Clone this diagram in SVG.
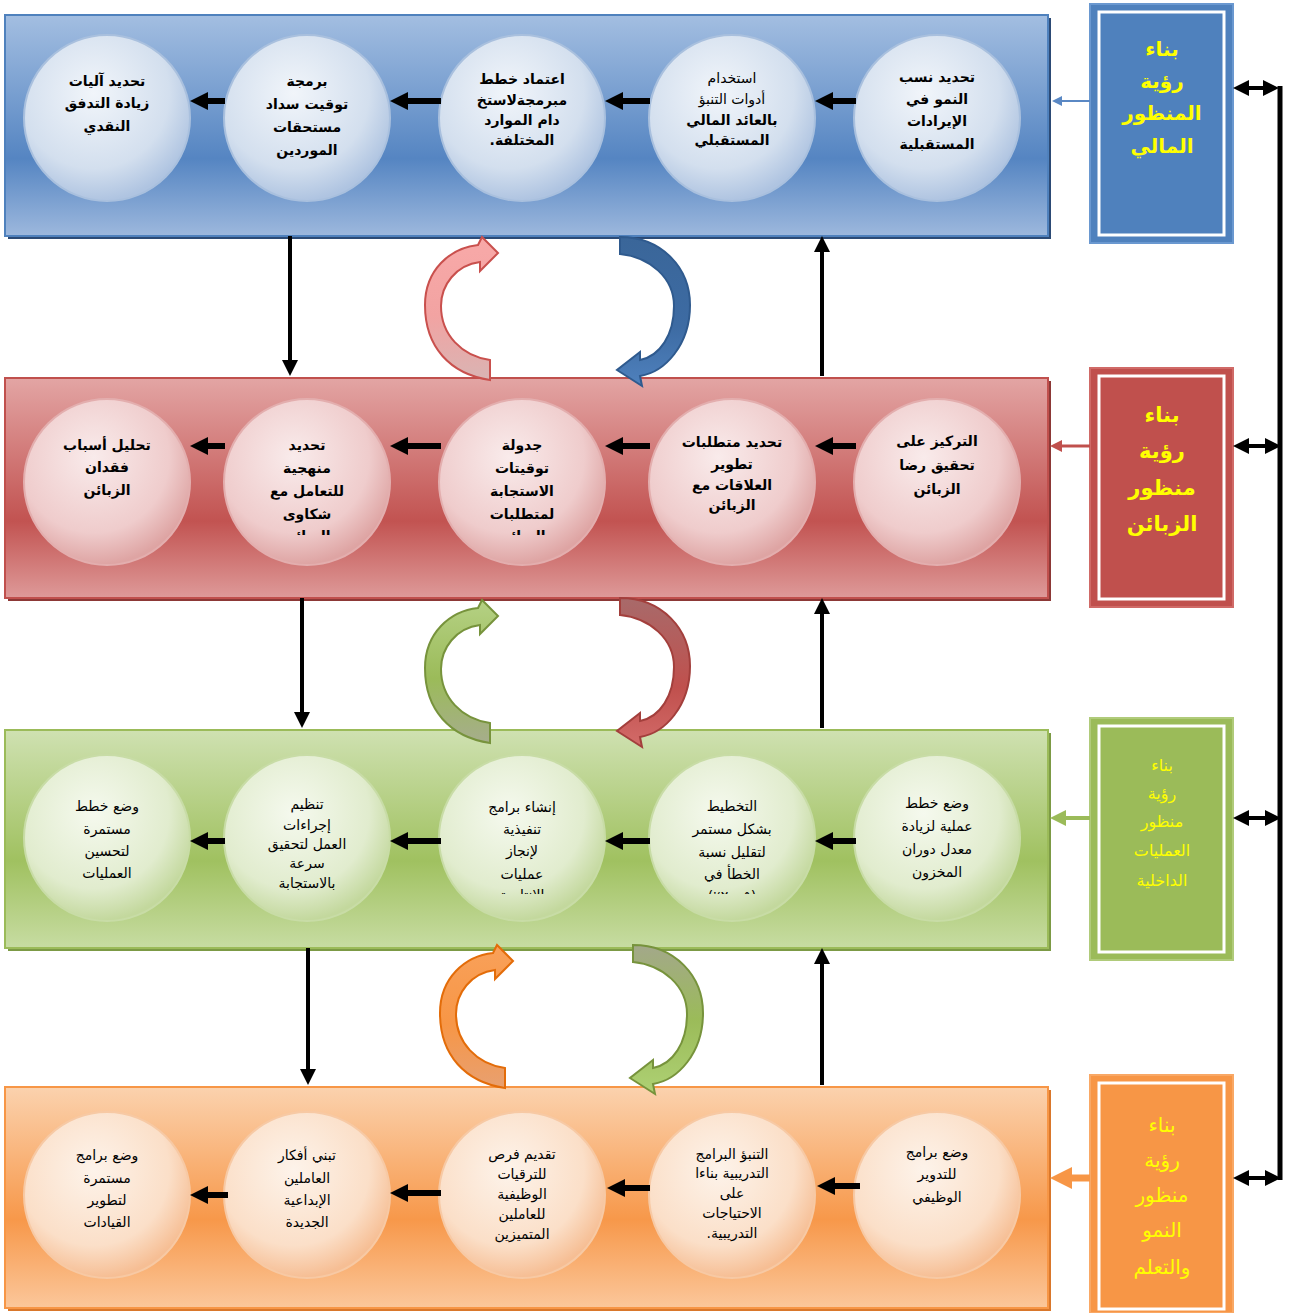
<svg xmlns="http://www.w3.org/2000/svg" width="1293" height="1313" viewBox="0 0 1293 1313">
  <defs>
    <style>
      .t { font-family: "DejaVu Sans", sans-serif; font-size: 14px; fill: #000; text-anchor: middle; direction: rtl; }
      .b { font-weight: bold; }
      .side { font-family: "DejaVu Sans", sans-serif; fill: #ffff00; text-anchor: middle; direction: rtl; }
      .inner { fill: none; stroke: #ffffff; stroke-width: 3; }
      .blk { stroke: #000; fill: none; }
    </style>
    <linearGradient id="gBlue" x1="0" y1="0" x2="0" y2="1">
      <stop offset="0" stop-color="#a3bee1"/>
      <stop offset="0.65" stop-color="#5585c2"/>
      <stop offset="1" stop-color="#9db8dd"/>
    </linearGradient>
    <linearGradient id="gRed" x1="0" y1="0" x2="0" y2="1">
      <stop offset="0" stop-color="#e3a5a4"/>
      <stop offset="0.65" stop-color="#c25351"/>
      <stop offset="1" stop-color="#de9a99"/>
    </linearGradient>
    <linearGradient id="gGreen" x1="0" y1="0" x2="0" y2="1">
      <stop offset="0" stop-color="#cfe1b1"/>
      <stop offset="0.6" stop-color="#a0c160"/>
      <stop offset="1" stop-color="#c7dca2"/>
    </linearGradient>
    <linearGradient id="gOrange" x1="0" y1="0" x2="0" y2="1">
      <stop offset="0" stop-color="#fbd2ae"/>
      <stop offset="0.6" stop-color="#f7984a"/>
      <stop offset="1" stop-color="#fbc79b"/>
    </linearGradient>
    <radialGradient id="cBlue" cx="0.42" cy="0.35" r="0.65">
      <stop offset="0" stop-color="#f1f5fa"/>
      <stop offset="0.7" stop-color="#d3dfee"/>
      <stop offset="1" stop-color="#afc4e1"/>
    </radialGradient>
    <radialGradient id="cRed" cx="0.42" cy="0.35" r="0.65">
      <stop offset="0" stop-color="#f9ebeb"/>
      <stop offset="0.7" stop-color="#efcccc"/>
      <stop offset="1" stop-color="#dea4a3"/>
    </radialGradient>
    <radialGradient id="cGreen" cx="0.42" cy="0.35" r="0.65">
      <stop offset="0" stop-color="#f5f9ee"/>
      <stop offset="0.7" stop-color="#e1ecce"/>
      <stop offset="1" stop-color="#c3d89d"/>
    </radialGradient>
    <radialGradient id="cOrange" cx="0.42" cy="0.35" r="0.65">
      <stop offset="0" stop-color="#fdf3ea"/>
      <stop offset="0.7" stop-color="#fbdfc8"/>
      <stop offset="1" stop-color="#f6be94"/>
    </radialGradient>
    <linearGradient id="rPink" x1="0" y1="0" x2="0" y2="1">
      <stop offset="0" stop-color="#f8a9a8"/>
      <stop offset="0.55" stop-color="#f2a3a2"/>
      <stop offset="1" stop-color="#d9b4b3"/>
    </linearGradient>
    <linearGradient id="rBlue" x1="0" y1="0" x2="0" y2="1">
      <stop offset="0" stop-color="#3a6699"/>
      <stop offset="0.6" stop-color="#3d6ba3"/>
      <stop offset="1" stop-color="#4f81bd"/>
    </linearGradient>
    <linearGradient id="rGreen" x1="0" y1="0" x2="0" y2="1">
      <stop offset="0" stop-color="#b5d184"/>
      <stop offset="0.55" stop-color="#9bbb59"/>
      <stop offset="1" stop-color="#a6ad8c"/>
    </linearGradient>
    <linearGradient id="rRed" x1="0" y1="0" x2="0" y2="1">
      <stop offset="0" stop-color="#a86a6a"/>
      <stop offset="0.6" stop-color="#c0504d"/>
      <stop offset="1" stop-color="#d36b69"/>
    </linearGradient>
    <linearGradient id="rOrange" x1="0" y1="0" x2="0" y2="1">
      <stop offset="0" stop-color="#f9a15a"/>
      <stop offset="0.55" stop-color="#f79646"/>
      <stop offset="1" stop-color="#e8a070"/>
    </linearGradient>
    <linearGradient id="rGreen2" x1="0" y1="0" x2="0" y2="1">
      <stop offset="0" stop-color="#a3a88a"/>
      <stop offset="0.5" stop-color="#9bbb59"/>
      <stop offset="1" stop-color="#aed174"/>
    </linearGradient>
    <!-- curved ribbon arrows: left one points up-right, right one points down-left -->
    <path id="curlL" d="M65,143 C25,137 0,110 0,68 C0,33 25,11 53,8 L57,0 L73,16 L55,34 L55,25 C31,28 16,48 16,69 C16,98 37,119 65,123 Z"/>
    <path id="curlR" d="M3,0 C45,0 73,31 73,68 C73,108 48,135 23,139 L25,149 L0,133 L23,115 L23,123 C43,119 57,98 57,69 C57,41 33,20 3,17 Z"/>
    <marker id="hBlk" viewBox="0 0 10 10" refX="0" refY="5" markerWidth="18" markerHeight="18" markerUnits="userSpaceOnUse" orient="auto">
      <path d="M0,0 L10,5 L0,10 Z" fill="#000"/>
    </marker>
    <marker id="hV" viewBox="0 0 10 10" refX="0" refY="5" markerWidth="16" markerHeight="16" markerUnits="userSpaceOnUse" orient="auto">
      <path d="M0,0 L10,5 L0,10 Z" fill="#000"/>
    </marker>
    <marker id="hD" viewBox="0 0 10 10" refX="0" refY="5" markerWidth="16" markerHeight="16" markerUnits="userSpaceOnUse" orient="auto-start-reverse">
      <path d="M0,0 L10,5 L0,10 Z" fill="#000"/>
    </marker>
    <marker id="hSB" viewBox="0 0 10 10" refX="0" refY="5" markerWidth="10" markerHeight="10" markerUnits="userSpaceOnUse" orient="auto">
      <path d="M0,0 L10,5 L0,10 Z" fill="#5a88c4"/>
    </marker>
    <marker id="hSR" viewBox="0 0 10 10" refX="0" refY="5" markerWidth="12" markerHeight="12" markerUnits="userSpaceOnUse" orient="auto">
      <path d="M0,0 L10,5 L0,10 Z" fill="#c0504d"/>
    </marker>
    <marker id="hSG" viewBox="0 0 10 10" refX="0" refY="5" markerWidth="16" markerHeight="16" markerUnits="userSpaceOnUse" orient="auto">
      <path d="M0,0 L10,5 L0,10 Z" fill="#9bbb59"/>
    </marker>
    <marker id="hSO" viewBox="0 0 10 10" refX="0" refY="5" markerWidth="22" markerHeight="22" markerUnits="userSpaceOnUse" orient="auto">
      <path d="M0,0 L10,5 L0,10 Z" fill="#f79646"/>
    </marker>
    <clipPath id="clipR2"><rect x="0" y="0" width="1293" height="535"/></clipPath>
    <clipPath id="clipR3"><rect x="0" y="0" width="1293" height="894"/></clipPath>
  </defs>

  <rect width="1293" height="1313" fill="#ffffff"/>

  <!-- perspective bands -->
  <g id="band-financial">
    <rect x="8" y="18" width="1043" height="221" fill="#2c4a75"/>
    <rect x="5" y="15" width="1043" height="221" fill="url(#gBlue)" stroke="#4f81bd" stroke-width="2"/>
  </g>
  <g id="band-customer">
    <rect x="8" y="381" width="1043" height="220" fill="#8c3836"/>
    <rect x="5" y="378" width="1043" height="220" fill="url(#gRed)" stroke="#c0504d" stroke-width="2"/>
  </g>
  <g id="band-internal">
    <rect x="8" y="733" width="1043" height="218" fill="#7c9a45"/>
    <rect x="5" y="730" width="1043" height="218" fill="url(#gGreen)" stroke="#9bbb59" stroke-width="2"/>
  </g>
  <g id="band-learning">
    <rect x="8" y="1090" width="1043" height="221" fill="#d9772b"/>
    <rect x="5" y="1087" width="1043" height="221" fill="url(#gOrange)" stroke="#f79646" stroke-width="2"/>
  </g>

  <!-- side title boxes -->
  <g id="title-financial">
    <rect x="1090" y="4" width="143" height="239" fill="#4f81bd" stroke="#6a98d0" stroke-width="2"/>
    <rect x="1099" y="12" width="125" height="223" class="inner"/>
    <g class="side" font-size="20" font-weight="bold">
      <text x="1162" y="56">بناء</text>
      <text x="1162" y="88">رؤية</text>
      <text x="1162" y="120">المنظور</text>
      <text x="1162" y="153">المالي</text>
    </g>
  </g>
  <g id="title-customer">
    <rect x="1090" y="368" width="143" height="239" fill="#c0504d" stroke="#d06a67" stroke-width="2"/>
    <rect x="1099" y="376" width="125" height="223" class="inner"/>
    <g class="side" font-size="21" font-weight="bold">
      <text x="1162" y="422">بناء</text>
      <text x="1162" y="458">رؤية</text>
      <text x="1162" y="495">منظور</text>
      <text x="1162" y="531">الزبائن</text>
    </g>
  </g>
  <g id="title-internal">
    <rect x="1090" y="718" width="143" height="242" fill="#9bbb59" stroke="#b0cb7a" stroke-width="2"/>
    <rect x="1099" y="726" width="125" height="226" class="inner"/>
    <g class="side" font-size="16">
      <text x="1162" y="771">بناء</text>
      <text x="1162" y="799">رؤية</text>
      <text x="1162" y="827">منظور</text>
      <text x="1162" y="856">العمليات</text>
      <text x="1162" y="886">الداخلية</text>
    </g>
  </g>
  <g id="title-learning">
    <rect x="1090" y="1075" width="143" height="238" fill="#f79646" stroke="#f9a865" stroke-width="2"/>
    <rect x="1099" y="1083" width="125" height="226" class="inner"/>
    <g class="side" font-size="20">
      <text x="1162" y="1132">بناء</text>
      <text x="1162" y="1167">رؤية</text>
      <text x="1162" y="1202">منظور</text>
      <text x="1162" y="1237">النمو</text>
      <text x="1162" y="1274">والتعلم</text>
    </g>
  </g>

  <!-- row 1: financial -->
  <g id="f1">
    <circle cx="937" cy="118" r="83" fill="url(#cBlue)" stroke="#a9c0de" stroke-width="2"/>
    <text class="t b" x="937" y="82">تحديد نسب</text>
    <text class="t b" x="937" y="104">النمو في</text>
    <text class="t b" x="937" y="126">الإيرادات</text>
    <text class="t b" x="937" y="149">المستقبلية</text>
  </g>
  <g id="f2">
    <circle cx="732" cy="118" r="83" fill="url(#cBlue)" stroke="#a9c0de" stroke-width="2"/>
    <text class="t" x="732" y="83" font-size="13">استخدام</text>
    <text class="t" x="732" y="104" font-size="13">أدوات التنبؤ</text>
    <text class="t b" x="732" y="125" font-size="13">بالعائد المالي</text>
    <text class="t b" x="732" y="145" font-size="13">المستقبلي</text>
  </g>
  <g id="f3">
    <circle cx="522" cy="118" r="83" fill="url(#cBlue)" stroke="#a9c0de" stroke-width="2"/>
    <text class="t b" x="522" y="84" font-size="13">اعتماد خطط</text>
    <text class="t b" x="522" y="105" font-size="13">مبرمجةلاستخ</text>
    <text class="t b" x="522" y="125" font-size="13">دام الموارد</text>
    <text class="t b" x="522" y="145" font-size="13">المختلفة.</text>
  </g>
  <g id="f4">
    <circle cx="307" cy="118" r="83" fill="url(#cBlue)" stroke="#a9c0de" stroke-width="2"/>
    <text class="t b" x="307" y="86">برمجة</text>
    <text class="t b" x="307" y="109">توقيت سداد</text>
    <text class="t b" x="307" y="132">مستحقات</text>
    <text class="t b" x="307" y="155">الموردين</text>
  </g>
  <g id="f5">
    <circle cx="107" cy="118" r="83" fill="url(#cBlue)" stroke="#a9c0de" stroke-width="2"/>
    <text class="t b" x="107" y="86">تحديد آليات</text>
    <text class="t b" x="107" y="108">زيادة التدفق</text>
    <text class="t b" x="107" y="131">النقدي</text>
  </g>

  <!-- row 2: customer -->
  <g id="c1">
    <circle cx="937" cy="482" r="83" fill="url(#cRed)" stroke="#e3aeae" stroke-width="2"/>
    <text class="t b" x="937" y="446">التركيز على</text>
    <text class="t b" x="937" y="470">تحقيق رضا</text>
    <text class="t b" x="937" y="494">الزبائن</text>
  </g>
  <g id="c2">
    <circle cx="732" cy="482" r="83" fill="url(#cRed)" stroke="#e3aeae" stroke-width="2"/>
    <text class="t b" x="732" y="447" font-size="13">تحديد متطلبات</text>
    <text class="t b" x="732" y="469" font-size="13">تطوير</text>
    <text class="t b" x="732" y="490" font-size="13">العلاقات مع</text>
    <text class="t b" x="732" y="510" font-size="13">الزبائن</text>
  </g>
  <g id="c3">
    <circle cx="522" cy="482" r="83" fill="url(#cRed)" stroke="#e3aeae" stroke-width="2"/>
    <g clip-path="url(#clipR2)">
      <text class="t b" x="522" y="450">جدولة</text>
      <text class="t b" x="522" y="473">توقيتات</text>
      <text class="t b" x="522" y="496">الاستجابة</text>
      <text class="t b" x="522" y="519">لمتطلبات</text>
      <text class="t b" x="522" y="541">الزبائن</text>
    </g>
  </g>
  <g id="c4">
    <circle cx="307" cy="482" r="83" fill="url(#cRed)" stroke="#e3aeae" stroke-width="2"/>
    <g clip-path="url(#clipR2)">
      <text class="t b" x="307" y="450">تحديد</text>
      <text class="t b" x="307" y="473">منهجية</text>
      <text class="t b" x="307" y="496">للتعامل مع</text>
      <text class="t b" x="307" y="519">شكاوى</text>
      <text class="t b" x="307" y="541">الزبائن</text>
    </g>
  </g>
  <g id="c5">
    <circle cx="107" cy="482" r="83" fill="url(#cRed)" stroke="#e3aeae" stroke-width="2"/>
    <text class="t b" x="107" y="450">تحليل أسباب</text>
    <text class="t b" x="107" y="472">فقدان</text>
    <text class="t b" x="107" y="495">الزبائن</text>
  </g>

  <!-- row 3: internal processes -->
  <g id="p1">
    <circle cx="937" cy="838" r="83" fill="url(#cGreen)" stroke="#c8dca6" stroke-width="2"/>
    <text class="t" x="937" y="808" font-size="15">وضع خطط</text>
    <text class="t" x="937" y="831" font-size="15">عملية لزيادة</text>
    <text class="t" x="937" y="854" font-size="15">معدل دوران</text>
    <text class="t" x="937" y="877" font-size="15">المخزون</text>
  </g>
  <g id="p2">
    <circle cx="732" cy="838" r="83" fill="url(#cGreen)" stroke="#c8dca6" stroke-width="2"/>
    <g clip-path="url(#clipR3)">
      <text class="t" x="732" y="811" font-size="15">التخطيط</text>
      <text class="t" x="732" y="834" font-size="15">بشكل مستمر</text>
      <text class="t" x="732" y="857" font-size="15">لتقليل نسبة</text>
      <text class="t" x="732" y="879" font-size="15">الخطأ في</text>
      <text class="t" x="732" y="901" font-size="11">(٢٠٠٥٪)</text>
    </g>
  </g>
  <g id="p3">
    <circle cx="522" cy="838" r="83" fill="url(#cGreen)" stroke="#c8dca6" stroke-width="2"/>
    <g clip-path="url(#clipR3)">
      <text class="t" x="522" y="812" font-size="15">إنشاء برامج</text>
      <text class="t" x="522" y="834" font-size="15">تنفيذية</text>
      <text class="t" x="522" y="856" font-size="15">لإنجاز</text>
      <text class="t" x="522" y="879" font-size="15">عمليات</text>
      <text class="t" x="522" y="900" font-size="15">الإنتاجية</text>
    </g>
  </g>
  <g id="p4">
    <circle cx="307" cy="838" r="83" fill="url(#cGreen)" stroke="#c8dca6" stroke-width="2"/>
    <text class="t" x="307" y="809">تنظيم</text>
    <text class="t" x="307" y="830">إجراءات</text>
    <text class="t" x="307" y="849">العمل لتحقيق</text>
    <text class="t" x="307" y="868">سرعة</text>
    <text class="t" x="307" y="888">بالاستجابة</text>
  </g>
  <g id="p5">
    <circle cx="107" cy="838" r="83" fill="url(#cGreen)" stroke="#c8dca6" stroke-width="2"/>
    <text class="t" x="107" y="811" font-size="15">وضع خطط</text>
    <text class="t" x="107" y="834" font-size="15">مستمرة</text>
    <text class="t" x="107" y="856" font-size="15">لتحسين</text>
    <text class="t" x="107" y="878" font-size="15">العمليات</text>
  </g>

  <!-- row 4: learning and growth -->
  <g id="l1">
    <circle cx="937" cy="1195" r="83" fill="url(#cOrange)" stroke="#f7c9a4" stroke-width="2"/>
    <text class="t" x="937" y="1157" font-size="15">وضع برامج</text>
    <text class="t" x="937" y="1179" font-size="15">للتدوير</text>
    <text class="t" x="937" y="1202" font-size="15">الوظيفي</text>
  </g>
  <g id="l2">
    <circle cx="732" cy="1195" r="83" fill="url(#cOrange)" stroke="#f7c9a4" stroke-width="2"/>
    <text class="t" x="732" y="1159" font-size="13">التنبؤ البرامج</text>
    <text class="t" x="732" y="1178" font-size="13">التدريبية بناءا</text>
    <text class="t" x="732" y="1198" font-size="13">على</text>
    <text class="t" x="732" y="1218" font-size="13">الاحتياجات</text>
    <text class="t" x="732" y="1238" font-size="13">التدريبية.</text>
  </g>
  <g id="l3">
    <circle cx="522" cy="1195" r="83" fill="url(#cOrange)" stroke="#f7c9a4" stroke-width="2"/>
    <text class="t" x="522" y="1159" font-size="13">تقديم فرص</text>
    <text class="t" x="522" y="1179" font-size="13">للترقيات</text>
    <text class="t" x="522" y="1199" font-size="13">الوظيفية</text>
    <text class="t" x="522" y="1219" font-size="13">للعاملين</text>
    <text class="t" x="522" y="1239" font-size="13">المتميزين</text>
  </g>
  <g id="l4">
    <circle cx="307" cy="1195" r="83" fill="url(#cOrange)" stroke="#f7c9a4" stroke-width="2"/>
    <text class="t" x="307" y="1160" font-size="15">تبني أفكار</text>
    <text class="t" x="307" y="1183" font-size="15">العاملين</text>
    <text class="t" x="307" y="1205" font-size="15">الإبداعية</text>
    <text class="t" x="307" y="1227" font-size="15">الجديدة</text>
  </g>
  <g id="l5">
    <circle cx="107" cy="1195" r="83" fill="url(#cOrange)" stroke="#f7c9a4" stroke-width="2"/>
    <text class="t" x="107" y="1160" font-size="15">وضع برامج</text>
    <text class="t" x="107" y="1183" font-size="15">مستمرة</text>
    <text class="t" x="107" y="1205" font-size="15">لتطوير</text>
    <text class="t" x="107" y="1227" font-size="15">القيادات</text>
  </g>

  <g id="connectors">
    <!-- left-pointing arrows inside each band -->
    <g class="blk" stroke-width="6" marker-end="url(#hBlk)">
      <path d="M856,101 H833"/>
      <path d="M650,101 H623"/>
      <path d="M441,101 H408"/>
      <path d="M225,101 H208"/>
      <path d="M856,446 H833"/>
      <path d="M650,446 H623"/>
      <path d="M441,446 H408"/>
      <path d="M225,446 H208"/>
      <path d="M856,841 H833"/>
      <path d="M650,841 H623"/>
      <path d="M441,841 H408"/>
      <path d="M225,841 H208"/>
      <path d="M860,1186 H835"/>
      <path d="M650,1188 H625"/>
      <path d="M441,1193 H408"/>
      <path d="M228,1195 H208"/>
    </g>
    <!-- vertical links between bands -->
    <g class="blk" stroke-width="4" marker-end="url(#hV)">
      <path d="M290,236 V360"/>
      <path d="M822,376 V252"/>
      <path d="M302,598 V712"/>
      <path d="M822,728 V614"/>
      <path d="M308,948 V1069"/>
      <path d="M822,1085 V964"/>
    </g>
    <!-- links from the title boxes to the bands -->
    <path d="M1090,101 H1062" stroke="#5a88c4" stroke-width="2" fill="none" marker-end="url(#hSB)"/>
    <path d="M1090,446 H1062" stroke="#c0504d" stroke-width="3" fill="none" marker-end="url(#hSR)"/>
    <path d="M1090,818 H1066" stroke="#9bbb59" stroke-width="4" fill="none" marker-end="url(#hSG)"/>
    <path d="M1090,1178 H1072" stroke="#f79646" stroke-width="7" fill="none" marker-end="url(#hSO)"/>
    <!-- right-hand bus joining the four title boxes -->
    <path d="M1280,86 V1180" stroke="#000" stroke-width="5" fill="none"/>
    <g class="blk" stroke-width="4" marker-start="url(#hD)" marker-end="url(#hD)">
      <path d="M1249,88 H1263"/>
      <path d="M1249,446 H1265"/>
      <path d="M1249,818 H1265"/>
      <path d="M1249,1178 H1265"/>
    </g>
    <!-- curved cycle arrows between bands -->
    <use href="#curlL" transform="translate(425,237)" fill="url(#rPink)" stroke="#c9504d" stroke-width="2"/>
    <use href="#curlR" transform="translate(617,237)" fill="url(#rBlue)" stroke="#2f5a8e" stroke-width="2"/>
    <use href="#curlL" transform="translate(425,600)" fill="url(#rGreen)" stroke="#77933c" stroke-width="2"/>
    <use href="#curlR" transform="translate(617,598)" fill="url(#rRed)" stroke="#a33f3c" stroke-width="2"/>
    <use href="#curlL" transform="translate(440,945)" fill="url(#rOrange)" stroke="#e36c09" stroke-width="2"/>
    <use href="#curlR" transform="translate(630,945)" fill="url(#rGreen2)" stroke="#77933c" stroke-width="2"/>
  </g>
</svg>
